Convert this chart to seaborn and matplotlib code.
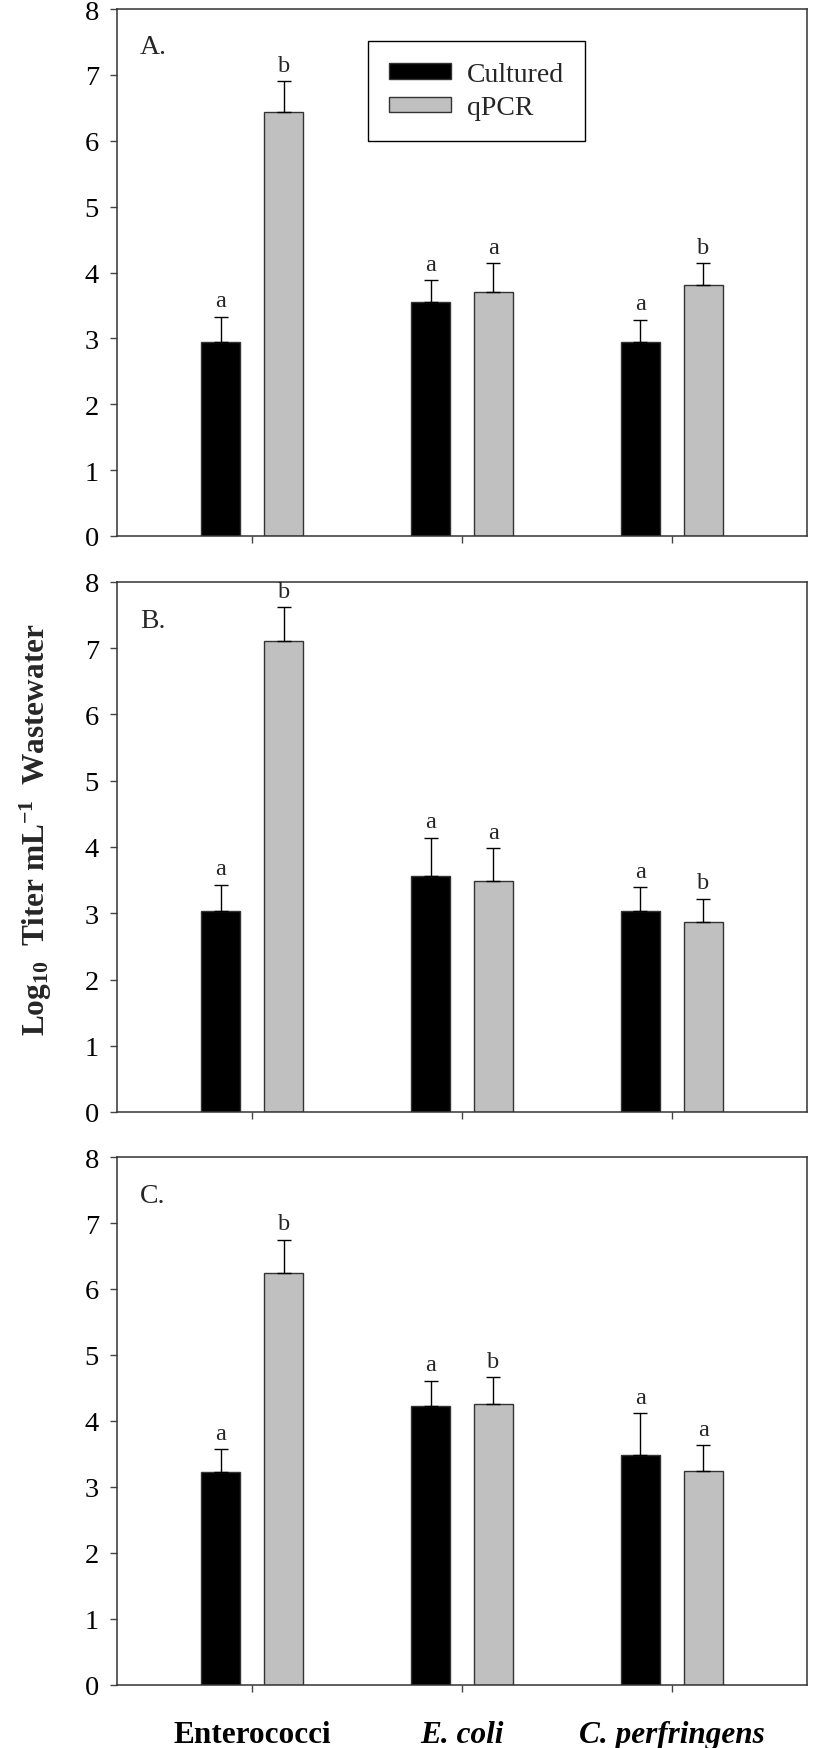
import matplotlib
matplotlib.use("Agg")
import matplotlib.pyplot as plt
import pandas as pd
import seaborn as sns

organisms = ["Enterococci", "E. coli", "C. perfringens"]
organism_italic = [False, True, True]
methods = ["Cultured", "qPCR"]
panel_labels = ["A.", "B.", "C."]

# Panel A
cultured_a = [2.95, 3.55, 2.95]
cultured_a_err = [0.38, 0.33, 0.33]
qpcr_a = [6.44, 3.71, 3.81]
qpcr_a_err = [0.46, 0.43, 0.33]
letters_cultured_a = ["a", "a", "a"]
letters_qpcr_a = ["b", "a", "b"]

# Panel B
cultured_b = [3.03, 3.56, 3.03]
cultured_b_err = [0.40, 0.58, 0.36]
qpcr_b = [7.11, 3.49, 2.87]
qpcr_b_err = [0.51, 0.49, 0.35]
letters_cultured_b = ["a", "a", "a"]
letters_qpcr_b = ["b", "a", "b"]

# Panel C
cultured_c = [3.22, 4.23, 3.49]
cultured_c_err = [0.35, 0.38, 0.63]
qpcr_c = [6.25, 4.26, 3.25]
qpcr_c_err = [0.50, 0.40, 0.38]
letters_cultured_c = ["a", "a", "a"]
letters_qpcr_c = ["b", "b", "a"]


def build_frame(cultured, cultured_err, qpcr, qpcr_err, let_cult, let_qpcr):
    rows = []
    for i, org in enumerate(organisms):
        rows.append({"organism": org, "method": "Cultured", "value": cultured[i],
                     "err": cultured_err[i], "letter": let_cult[i]})
        rows.append({"organism": org, "method": "qPCR", "value": qpcr[i],
                     "err": qpcr_err[i], "letter": let_qpcr[i]})
    return pd.DataFrame(rows)


frames = [
    build_frame(cultured_a, cultured_a_err, qpcr_a, qpcr_a_err, letters_cultured_a, letters_qpcr_a),
    build_frame(cultured_b, cultured_b_err, qpcr_b, qpcr_b_err, letters_cultured_b, letters_qpcr_b),
    build_frame(cultured_c, cultured_c_err, qpcr_c, qpcr_c_err, letters_cultured_c, letters_qpcr_c),
]

sns.set_style("ticks")
plt.rcParams["font.family"] = ["Liberation Serif", "DejaVu Serif"]
plt.rcParams["mathtext.fontset"] = "custom"
plt.rcParams["mathtext.rm"] = "Liberation Serif"
plt.rcParams["mathtext.bf"] = "Liberation Serif:bold"
plt.rcParams["mathtext.it"] = "Liberation Serif:italic"

W, H = 820, 1749
fig = plt.figure(figsize=(W / 100, H / 100), dpi=100)

# axes boxes in pixels: left, top, right, bottom
boxes = [(117, 10, 807, 537), (117, 583, 807, 1113), (117, 1158, 807, 1686)]
palette = {"Cultured": "black", "qPCR": "#c0c0c0"}

for i, (df, box) in enumerate(zip(frames, boxes)):
    l, t, r, b = box
    ax = fig.add_axes([l / W, 1 - b / H, (r - l) / W, (b - t) / H])
    sns.barplot(data=df, x="organism", y="value", hue="method", order=organisms,
                hue_order=methods, palette=palette, width=0.6, gap=0.38,
                errorbar=None, edgecolor="#333333", linewidth=1.0,
                legend=(i == 0), ax=ax)

    bars = list(ax.containers)
    for container, method in zip(bars, methods):
        sub = df[df["method"] == method].set_index("organism").loc[organisms]
        for bar, e, letter in zip(container, sub["err"], sub["letter"]):
            x = bar.get_x() + bar.get_width() / 2
            top = bar.get_height()
            ax.errorbar(x, top, yerr=[[0], [e]], color="black", lw=1,
                        capsize=5, capthick=1)
            ax.annotate(letter, (x, top + e), xytext=(0, 4),
                        textcoords="offset points", ha="center", va="bottom",
                        fontsize=17.5)

    ax.set_xlim(-0.645, 2.645)
    ax.set_ylim(0, 8)
    ax.set_yticks(range(9))
    ax.set_xlabel("")
    ax.set_ylabel("")
    for side in ["top", "right", "left", "bottom"]:
        ax.spines[side].set_visible(True)
        ax.spines[side].set_color("#333333")
        ax.spines[side].set_linewidth(1.1)
    ax.tick_params(axis="both", direction="out", length=5, width=1,
                   color="#444444", labelsize=20.5, labelcolor="black")
    ax.tick_params(axis="y", pad=8)
    ax.text(0.033, 0.928, panel_labels[i], transform=ax.transAxes,
            ha="left", va="center", fontsize=20)

    if i == 0:
        handles, labels = ax.get_legend_handles_labels()
        leg = ax.legend(handles, labels, loc="upper left",
                        bbox_to_anchor=(0.364, 0.939), borderaxespad=0,
                        frameon=True, fancybox=False, edgecolor="black",
                        framealpha=1, fontsize=20, handlelength=2.25,
                        handleheight=0.5, borderpad=0.75, labelspacing=0.3,
                        handletextpad=0.55)
        leg.get_frame().set_linewidth(1.0)

    if i < 2:
        ax.tick_params(axis="x", labelbottom=False)
    else:
        ax.tick_params(axis="x", pad=20)
        for lab, ital in zip(ax.get_xticklabels(), organism_italic):
            lab.set_fontweight("bold")
            lab.set_fontsize(22.5)
            lab.set_fontstyle("italic" if ital else "normal")

fig.text(36 / W, 1 - 830 / H,
         r"$\mathbf{Log_{10}\ \ Titer\ mL^{-1}\ \ Wastewater}$",
         rotation=90, ha="center", va="center", fontsize=22.5)

fig.savefig("out.png", dpi=100)
